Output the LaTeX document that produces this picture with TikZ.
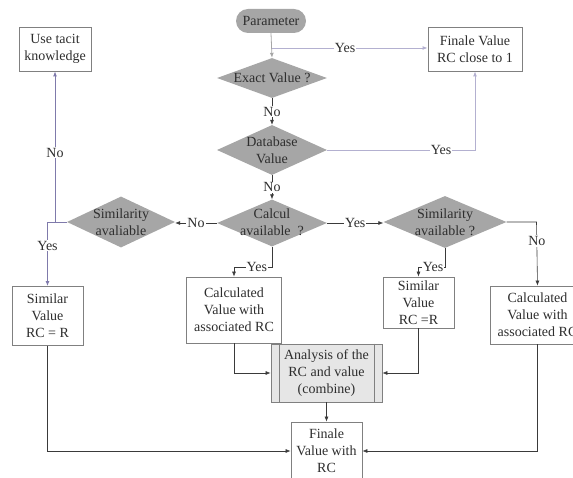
\documentclass[tikz,border=0pt]{standalone}
\usepackage{fontspec}
\setmainfont{Liberation Serif}
\newfontfamily\tnr{Liberation Serif}
\usetikzlibrary{shapes.geometric,arrows.meta,positioning}
\definecolor{txt}{HTML}{2E2E2E}
\definecolor{dgray}{HTML}{A6A6A6}
\definecolor{bord}{HTML}{808080}
\definecolor{lav}{HTML}{7F7AAB}
\definecolor{lavl}{HTML}{B3B0D0}
\definecolor{lnk}{HTML}{3A3A3A}
\definecolor{anafill}{HTML}{E6E6E6}
\tikzset{
  every node/.style={font=\tnr\fontsize{14}{17.2}\selectfont, text=txt},
  dia/.style={diamond, fill=dgray, draw=none, inner sep=0pt},
  dtext/.style={align=center, inner sep=0pt},
  box/.style={rectangle, draw=bord, line width=0.8pt, fill=white, align=center, inner sep=0pt},
  pill/.style={rectangle, rounded corners=12pt, fill=dgray, draw=none, align=center, inner sep=0pt},
  tip/.style={-{Latex[length=5pt,width=4pt]}},
  link/.style={tip, draw=lnk, line width=0.6pt},
  lavlink/.style={tip, draw=lav, line width=0.9pt},
  lavllink/.style={tip, draw=lavl, line width=0.9pt},
  graylink/.style={tip, draw=dgray, line width=0.8pt},
  lbl/.style={fill=white, inner sep=1pt}
}
\begin{document}
\begin{tikzpicture}[x=1pt,y=-1pt]
\useasboundingbox (0,0) rectangle (573,478);
\clip (0,0) rectangle (573,478);

% nodes
\node[pill, minimum width=70pt, minimum height=24pt] (param) at (271,21) {Parameter};
\node[dia, minimum width=110pt, minimum height=40pt] (exact) at (272,78) {};
\node[dtext] (exactT) at (272,78) {Exact Value ?};
\node[box, minimum width=94pt, minimum height=44pt] (final1) at (475,49) {Finale Value\\RC close to 1};
\node[box, minimum width=72pt, minimum height=44pt] (tacit) at (55,49) {Use tacit\\knowledge};
\node[dia, minimum width=110pt, minimum height=50pt] (db) at (272,150) {};
\node[dtext] (dbT) at (272,150) {Database\\Value};
\node[dia, minimum width=110pt, minimum height=47pt] (calc) at (272,223) {};
\node[dtext] (calcT) at (272,222) {Calcul\\available\ \ ?};
\node[dia, minimum width=108pt, minimum height=51pt] (simL) at (121,222) {};
\node[dtext] (simLT) at (121,222) {Similarity\\avaliable};
\node[dia, minimum width=123pt, minimum height=52pt] (simR) at (445,222) {};
\node[dtext] (simRT) at (445,222) {Similarity\\available ?};
\node[box, minimum width=71pt, minimum height=59pt] (simvalL) at (47.5,316) {Similar\\Value\\RC = R};
\node[box, minimum width=95pt, minimum height=66pt] (calcM) at (234,310) {Calculated\\Value with\\associated RC};
\node[box, minimum width=71pt, minimum height=51pt] (simvalR) at (418.5,302.5) {Similar\\Value\\RC =R};
\node[box, minimum width=95pt, minimum height=58pt] (calcR) at (537.5,315) {Calculated\\Value with\\associated RC};
\node[box, fill=anafill, minimum width=111pt, minimum height=58pt] (ana) at (326.5,373) {Analysis of the\\RC and value\\(combine)};
\draw[draw=bord, line width=0.8pt] ([xshift=8.5pt]ana.north west) -- ([xshift=8.5pt]ana.south west);
\draw[draw=bord, line width=0.8pt] ([xshift=-8.5pt]ana.north east) -- ([xshift=-8.5pt]ana.south east);
\node[box, minimum width=71pt, minimum height=58pt] (final2) at (326.5,451) {Finale\\Value with\\RC};

% coordinates
\coordinate (ybr) at (272,48);
\coordinate (dbr) at (475,150);
\coordinate (simRr) at (536.5,222);
\coordinate (simRb) at (445,267);
\coordinate (simRb2) at (418.5,267);
\coordinate (calcb) at (272,267);
\coordinate (calcb2) at (234,267);
\coordinate (tacitb) at (55,222);
\coordinate (simLb) at (47.5,222);

% connectors
\draw[graylink] (param.south) -- (exact.north);
\draw[lavllink] (ybr) -- node[lbl, pos=0.47] {Yes} (ybr -| final1.west);
\draw[link] (exact.south) -- node[lbl] {No} (db.north);
\draw[lavllink] (db.east) -- node[lbl, pos=0.77] {Yes} (dbr) -- (final1.south);
\draw[link] (db.south) -- node[lbl] {No} (calc.north);
\draw[link] (calc.west) -- node[lbl] {No} (calc.west -| simL.east);
\draw[link] (calc.east) -- node[lbl] {Yes} (calc.east -| simR.west);
\draw[link] (simR.east) -- (simRr) -- node[lbl, pos=0.3] {No} (calcR.north);
\draw[link] (simR.south) -- (simRb) -- node[lbl, pos=0.45] {Yes} (simRb2) -- (simvalR.north);
\draw[link] (calc.south) -- (calcb) -- node[lbl, pos=0.4] {Yes} (calcb2) -- (calcM.north);
\draw[lavlink] (simL.west) -- (tacitb) -- node[lbl, pos=0.46] {No} (tacit.south);
\draw[lavlink] (tacitb) -- (simLb) -- node[lbl, pos=0.37] {Yes} (simvalL.north);
\draw[link] (calcM.south) |- (ana.west);
\draw[link] (simvalR.south) |- (ana.east);
\draw[link] (ana.south) -- (final2.north);
\draw[link] (simvalL.south) |- (final2.west);
\draw[link] (calcR.south) |- (final2.east);
\end{tikzpicture}
\end{document}
